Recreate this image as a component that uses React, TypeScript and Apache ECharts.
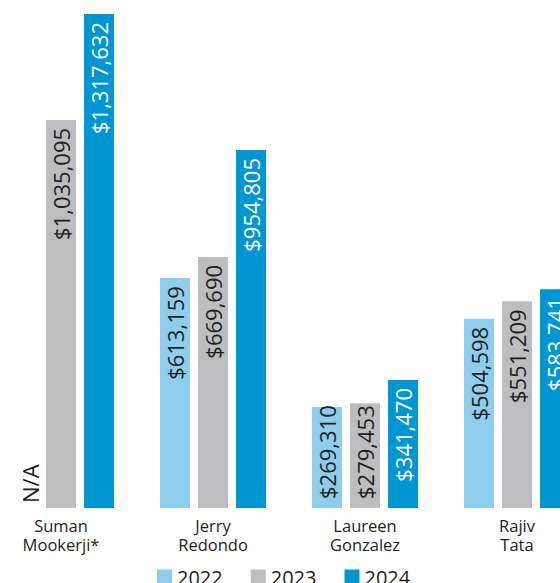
import React, { useEffect, useRef } from "react";
import * as echarts from "echarts";

const categories = ["Suman\nMookerji*", "Jerry\nRedondo", "Laureen\nGonzalez", "Rajiv\nTata"];
const years = ["2022", "2023", "2024"];
const values2022: (number | null)[] = [null, 613159, 269310, 504598];
const values2023: (number | null)[] = [1035095, 669690, 279453, 551209];
const values2024: (number | null)[] = [1317632, 954805, 341470, 583741];

const colors = ["#8ECDEB", "#BCBDC0", "#0096D1"];
const labelColors = ["#231F20", "#231F20", "#FFFFFF"];
const DARK = "#231F20";
const FONT = "'Open Sans', sans-serif";

const fmt = (v: number) => "$" + v.toLocaleString("en-US");

function buildData(vals: (number | null)[]) {
  return vals.map((v) => {
    if (v === null) {
      return {
        value: 0,
        label: {
          show: true,
          formatter: "N/A",
          position: "insideBottom",
          rotate: 90,
          align: "left",
          verticalAlign: "middle",
          distance: 5,
          offset: [0, 7],
          color: DARK,
        },
      };
    }
    if (v < 300000) {
      return {
        value: v,
        label: {
          position: "insideBottom",
          align: "left",
          distance: 9,
        },
      };
    }
    return { value: v };
  });
}

export default function App() {
  const ref = useRef<HTMLDivElement>(null);
  useEffect(() => {
    if (!ref.current) return;
    const chart = echarts.init(ref.current, undefined, { renderer: "svg" });
    const seriesVals = [values2022, values2023, values2024];
    chart.setOption({
      animation: false,
      backgroundColor: "#FFFFFF",
      textStyle: { fontFamily: FONT },
      legend: {
        data: years,
        left: 172,
        top: 567,
        padding: 0,
        itemWidth: 15,
        itemHeight: 15,
        itemGap: 28,
        icon: "rect",
        textStyle: { fontSize: 20, color: DARK, fontFamily: FONT },
      },
      grid: { left: 0, right: 0, top: 14, bottom: 75 },
      xAxis: {
        type: "category",
        data: categories,
        axisLine: { show: false },
        axisTick: { show: false },
        axisLabel: {
          margin: 8,
          fontSize: 16.5,
          lineHeight: 19,
          color: DARK,
          fontFamily: FONT,
        },
      },
      yAxis: {
        type: "value",
        min: 0,
        max: 1317632,
        show: false,
        splitLine: { show: false },
      },
      series: years.map((y, i) => ({
        name: y,
        type: "bar",
        barWidth: 30,
        barGap: "26.7%",
        itemStyle: { color: colors[i] },
        label: {
          show: true,
          position: "insideTop",
          rotate: 90,
          align: "right",
          verticalAlign: "middle",
          distance: 8,
          fontSize: 22,
          fontFamily: FONT,
          color: labelColors[i],
          formatter: (p: any) => fmt(p.value),
        },
        data: buildData(seriesVals[i]),
      })),
    });
    return () => chart.dispose();
  }, []);
  return (
    <div style={{ position: "fixed", left: 0, top: 0, width: 560, height: 583, overflow: "hidden" }}>
      <div
        ref={ref}
        style={{ position: "absolute", left: -15, top: 0, width: 608, height: 583 }}
      />
    </div>
  );
}
